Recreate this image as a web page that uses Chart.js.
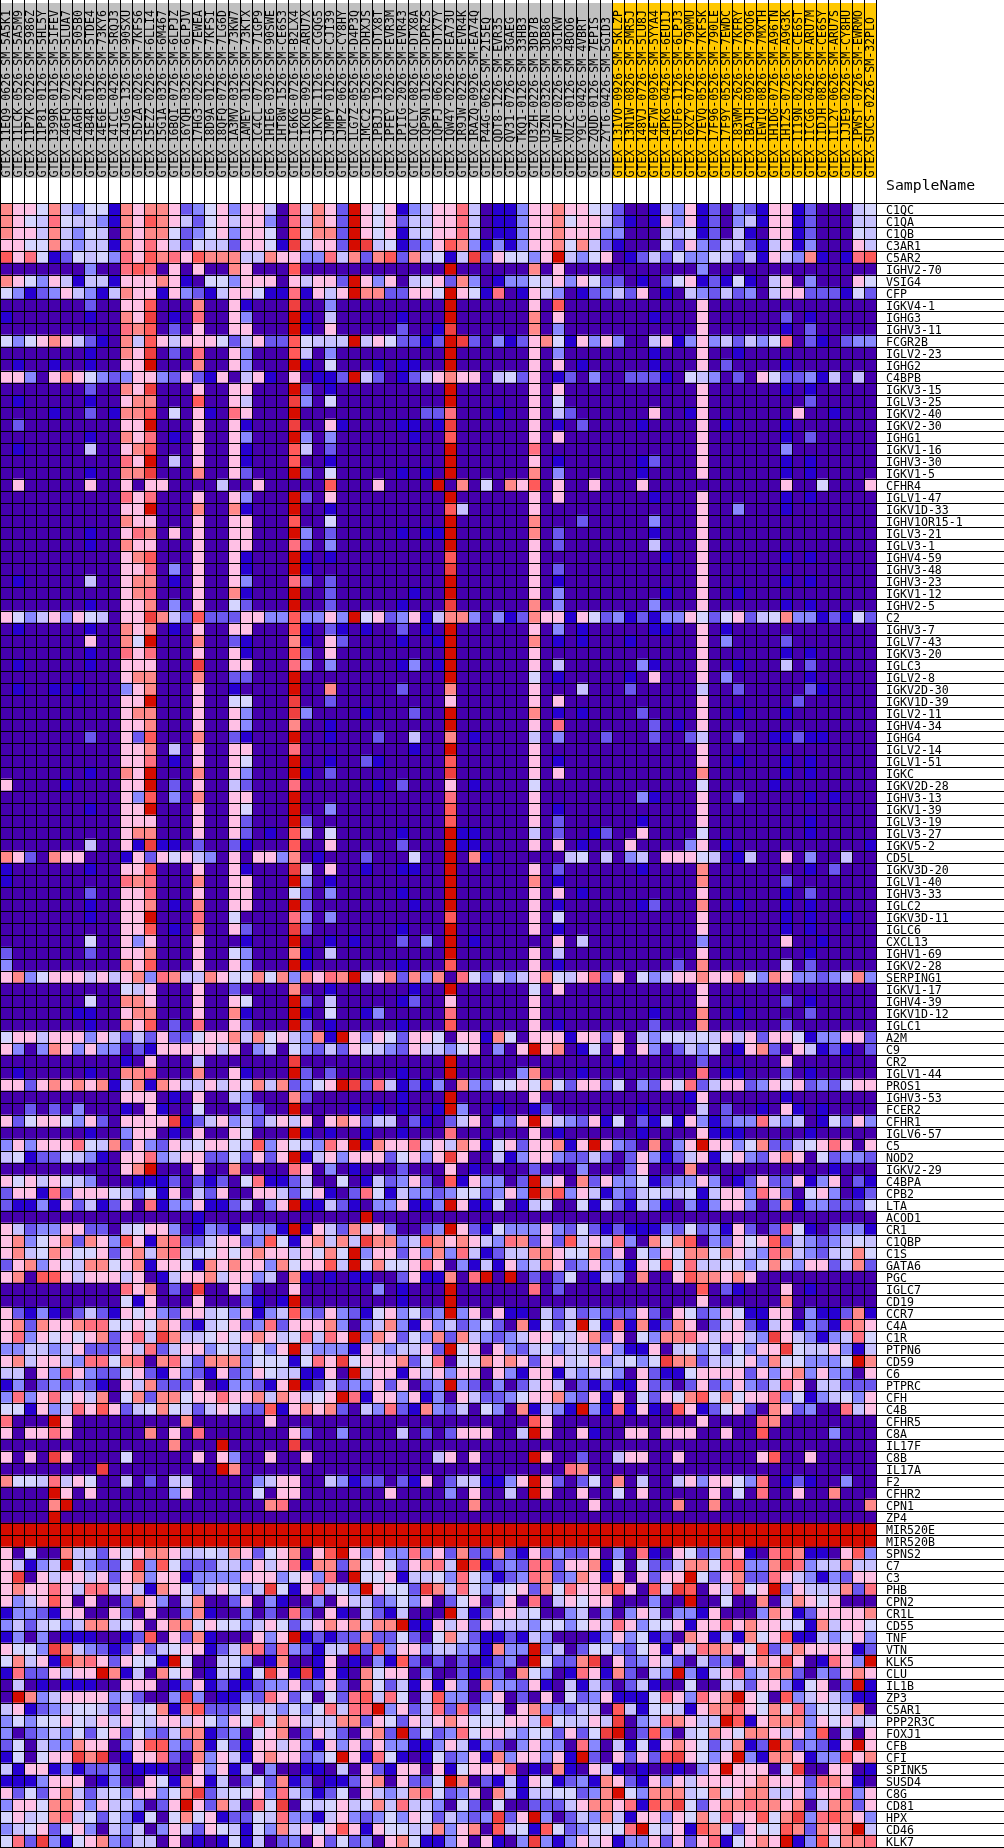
<!DOCTYPE html>
<html><head><meta charset="utf-8">
<style>html,body{margin:0;padding:0;background:#fff}canvas{display:block}</style>
<script src="https://cdn.jsdelivr.net/npm/chart.js@4"></script>
</head><body><canvas id="c" width="1004" height="1848"></canvas>
<script>
const sampleNames=["GTEX-11EQ9-0626-SM-5A5K1","GTEX-11LCK-0526-SM-5A5M9","GTEX-11P7K-0226-SM-5986Z","GTEX-11P81-0126-SM-5HL5Y","GTEX-1399R-0126-SM-5IFEV","GTEX-146FQ-0726-SM-5LUA7","GTEX-14A6H-2426-SM-505B0","GTEX-14B4R-0126-SM-5TDE4","GTEX-14E6E-0326-SM-73KY6","GTEX-14ICL-0426-SM-5RQJ3","GTEX-14JG6-1326-SM-90SXU","GTEX-15DZA-0226-SM-7KFS6","GTEX-15EZZ-0226-SM-6LLI4","GTEX-15G1A-0326-SM-6M467","GTEX-16BQI-0726-SM-6LPJZ","GTEX-16YQH-0326-SM-6LPJV","GTEX-17HG3-0226-SM-7EWEA","GTEX-18D9A-0126-SM-7KFSI","GTEX-18QFQ-0726-SM-7LG6D","GTEX-1A3MV-0326-SM-73KW7","GTEX-1AMEY-0126-SM-73KTX","GTEX-1C4CL-0726-SM-7IGP9","GTEX-1H1E6-0326-SM-90SWE","GTEX-1HT8W-1526-SM-CE6S3","GTEX-1I6K6-0726-SM-B2LX4","GTEX-1IKOE-0926-SM-ARU7X","GTEX-1JKYN-1126-SM-CGQG5","GTEX-1JMPY-0126-SM-CJI39","GTEX-1JMPZ-0626-SM-CY8HY","GTEX-1LG7Z-0526-SM-D4P3Q","GTEX-1MCC2-0526-SM-DHXJS","GTEX-1PBJJ-1926-SM-DTX8T","GTEX-1PFEY-0226-SM-EVR3M","GTEX-1PIIG-2026-SM-EVR43","GTEX-1QCLY-0826-SM-DTX8A","GTEX-1QP9N-0126-SM-DPRZS","GTEX-1QPFJ-0626-SM-DTX7Y","GTEX-1QW4Y-0226-SM-EA73U","GTEX-1R9JW-0226-SM-EVR4K","GTEX-1RAZQ-0926-SM-EA74Q","GTEX-P44G-0626-SM-2I5EQ","GTEX-QDT8-1226-SM-EVR35","GTEX-QV31-0726-SM-3GAEG","GTEX-TKQ1-0126-SM-33HB3","GTEX-U3ZH-0226-SM-3DB7B","GTEX-U3ZN-0326-SM-3DB86","GTEX-WFJO-0226-SM-3GIKW","GTEX-XUZC-0126-SM-4BOO6","GTEX-Y9LG-0426-SM-4VBRT","GTEX-ZQUD-0126-SM-7EPIS","GTEX-ZYT6-0426-SM-5GID3","GTEX-13IVO-0926-SM-5KLZP","GTEX-13N1W-0826-SM-5MR5J","GTEX-148VJ-0726-SM-5LU8J","GTEX-14E7W-0926-SM-5YYA4","GTEX-14PK6-0426-SM-6EU1J","GTEX-15UF6-1126-SM-6LPJ3","GTEX-16XZY-0726-SM-790MU","GTEX-17EVQ-0526-SM-7KFSK","GTEX-17F96-0526-SM-790LE","GTEX-17F9Y-0526-SM-7EWDC","GTEX-183WM-2626-SM-7KFRY","GTEX-1BAJH-0926-SM-79OO6","GTEX-1EWIQ-0826-SM-7MXTH","GTEX-1H1DG-0726-SM-A96TN","GTEX-1H1ZS-0726-SM-A9G3K","GTEX-1I19N-0226-SM-CE6ST","GTEX-1ICG6-0426-SM-ARU7M","GTEX-1IDJH-0826-SM-CE6SY","GTEX-1IL2Y-0626-SM-ARU7S","GTEX-1JJE9-0226-SM-CY8HU","GTEX-1PWST-0726-SM-EWRMO","GTEX-SUCS-0226-SM-32PLO"];
const grayCount=51;
const geneNames=["C1QC","C1QA","C1QB","C3AR1","C5AR2","IGHV2-70","VSIG4","CFP","IGKV4-1","IGHG3","IGHV3-11","FCGR2B","IGLV2-23","IGHG2","C4BPB","IGKV3-15","IGLV3-25","IGKV2-40","IGKV2-30","IGHG1","IGKV1-16","IGHV3-30","IGKV1-5","CFHR4","IGLV1-47","IGKV1D-33","IGHV1OR15-1","IGLV3-21","IGLV3-1","IGHV4-59","IGHV3-48","IGHV3-23","IGKV1-12","IGHV2-5","C2","IGHV3-7","IGLV7-43","IGKV3-20","IGLC3","IGLV2-8","IGKV2D-30","IGKV1D-39","IGLV2-11","IGHV4-34","IGHG4","IGLV2-14","IGLV1-51","IGKC","IGKV2D-28","IGHV3-13","IGKV1-39","IGLV3-19","IGLV3-27","IGKV5-2","CD5L","IGKV3D-20","IGLV1-40","IGHV3-33","IGLC2","IGKV3D-11","IGLC6","CXCL13","IGHV1-69","IGKV2-28","SERPING1","IGKV1-17","IGHV4-39","IGKV1D-12","IGLC1","A2M","C9","CR2","IGLV1-44","PROS1","IGHV3-53","FCER2","CFHR1","IGLV6-57","C5","NOD2","IGKV2-29","C4BPA","CPB2","LTA","ACOD1","CR1","C1QBP","C1S","GATA6","PGC","IGLC7","CD19","CCR7","C4A","C1R","PTPN6","CD59","C6","PTPRC","CFH","C4B","CFHR5","C8A","IL17F","C8B","IL17A","F2","CFHR2","CPN1","ZP4","MIR520E","MIR520B","SPNS2","C7","C3","PHB","CPN2","CR1L","CD55","TNF","VTN","KLK5","CLU","IL1B","ZP3","C5AR1","PPP2R3C","FOXJ1","CFB","CFI","SPINK5","SUSD4","C8G","CD81","HPX","CD46","KLK7"];
const levelColors=["#4500AD","#2700D1","#6B58EF","#8888FF","#C7C1FF","#D5D5FF","#FFC0E5","#FF8989","#FF7080","#FF5A5A","#EF4040","#D60C00"];
const cellLevels=[
"7665743551 7677623563 664085762b 656134 6684011366 7665420014 3612032166 1200045",
"7654854431 7697642564 663084762b 656244 6684011366 7566421016 3612034166 1200044",
"7664743540 7677523563 665095772b 656145 6684011366 7666330004 4512041066 1200054",
"6655743441 7686425442 6651a4662b a45123 6973131366 7574210005 2632442146 1300064",
"9685125453 8697869777 4476633847 279274 514a265536 b435601242 5335424164 3710189",
"0000000300 8980606007 6000900000 000000 0b00000070 6000000000 0030000000 0000000",
"7653641441 6667610553 666064662b 636045 6273013354 6365220102 5612151046 0300065",
"5312364314 7661632146 651181646b 772266 5b65180164 3012342601 0432423046 6222152",
"0000000200 6690007006 1000a00300 000000 0b00000060 9000000000 0060000000 0000000",
"1000000100 76a0108006 3000b10400 000100 0b00000070 6000000010 0060000002 0100000",
"0000000000 8790206006 6000b10600 000200 1a00000070 3000000000 0060000001 0200000",
"5356764210 7496466652 462295444b 465221 2ba2031267 5163630046 1363424358 0210233",
"0000000100 76a0208006 3000940300 000000 0b00000060 3000000010 0060010000 0000000",
"0100100100 66b0007006 3000b10500 010110 0b00000060 6010000010 0060200001 0000000",
"6630676532 3663262160 461060112b 420124 6766045260 1203002221 0543020652 2314040",
"0000000200 76a0006006 6000b20100 000000 0b00000060 6000000000 0060000001 0100000",
"0100000100 6770009006 4000a30500 000000 0b00000060 5000000000 0060000000 0200000",
"0000100201 7790506108 6000b00000 000002 2800010060 4200000060 0160000000 6001000",
"0200000000 66b0006006 1000a00610 000110 1a00000060 1020000100 0060100001 0000000",
"0000000100 7680106006 3000b30300 000010 0900000060 6000000000 0060000001 0200000",
"0100000400 6790006006 1000940200 000000 0b00000080 0000000000 0060000003 0000000",
"0000000000 86b0406006 1000900100 000000 0b00000060 1000000120 0060000001 0100000",
"0000000100 77a0007006 2000b20500 000101 0b00000070 3000000100 0060000001 0100000",
"0600000600 6066000040 0600000900 060000 b070507690 6006000600 0000000006 0050006",
"0000000000 8680006006 3000b20600 000000 0b00000060 6000000010 0060000001 0100000",
"0000000000 66b0007007 1000b00100 000000 0940000060 0000000000 0060030001 0000000",
"0000000000 7660006006 6000900500 000000 0b00000070 0020000030 0060000000 0000000",
"0000000100 6870606006 6000b30200 000101 1b00000070 2000000010 0060000000 0000000",
"0000000100 7660006006 6000820300 000000 0b00000060 2000000040 0060000000 0000000",
"0000000000 6790006006 1000b10100 000000 0900000060 0000000001 0060000001 0100000",
"0000000000 6680306006 1000b10000 000000 0a00000060 2000000000 0060000000 0000000",
"0100000400 6770106006 3000820200 000000 0b00000060 1000000000 0060000001 0100000",
"0000000000 6780006007 1000b00200 000010 0b00000060 3000000001 0060010000 0000000",
"0000000100 6670306005 2000b00200 000100 0a00000070 3000000030 0060000001 0100000",
"6534636540 66a7429222 663393363b 562361 4773031276 6165231213 3652562457 3312152",
"0100000100 7670106006 6000910210 100201 0b00000060 3010000011 0060100000 0000000",
"0000000600 75b0007002 1000710620 000100 1b00000070 1010001000 0060300002 0000000",
"0000000100 8680006006 1000920600 000000 0b00000060 0000000000 0060000001 0100000",
"0100000100 666000a006 6000830300 000130 1b00000060 4000000310 0060010004 0200000",
"0000000000 6770007002 2000b00000 000000 0b00000050 1000001060 0060300000 0100000",
"0100101000 3670006001 0000b00700 000200 0700000060 0040002000 0040020000 0210000",
"0000000000 66b0006005 5000a00200 000000 0600000060 6000000000 0060000000 2000000",
"0000000000 6770006006 3000a30000 100020 0b00000070 1010000200 0060010001 0000000",
"0000000000 6670006006 3000700100 000000 0b00000060 8000000020 1060000000 0000000",
"0000000200 6290007002 1000b00100 020040 0701000040 3000200020 0240020011 2110000",
"0000000000 6670406006 6000800000 000010 0b00000060 0000000000 0060000000 0000000",
"0000000000 6680106006 5000b00100 210000 0900000060 1000000000 0060010001 0100000",
"0000000100 76b0007006 3000b10200 000000 0a00000060 6000000000 0070000001 0100000",
"6000010000 66b0206004 2000800000 010200 0601000050 0000000000 0050000010 0000000",
"0000000000 6390307006 6000b00000 000000 0800000060 0000000310 0060020000 0101000",
"0000000100 66b0006006 5000b00300 000000 0900000060 1000000000 0060000000 0000000",
"0000000000 6660006006 2000b20000 000000 0900000060 2000000100 0060000000 0100000",
"0000000000 6770006006 2010940500 000100 0b11000040 2001200600 0050000000 0100000",
"0000000400 61a1102002 1000900600 000200 0b11000060 6010006000 0360100000 0000001",
"7620766000 1626564306 0663701000 200050 0b07100000 0450403406 6654014006 0300400",
"1000000100 6690006006 1000a40600 100110 0b00000060 2000000100 0070000000 0102000",
"1000000000 8780007006 6000b30100 000000 0b00000070 1000000000 0070000002 0000000",
"0000000200 6680006006 6000520300 000100 0b00000060 6010000000 0060000001 0200000",
"0000000100 6670107006 6000b20000 000010 0b00000060 1000000120 0070010001 0100000",
"0000000100 66b0008005 0000830300 000000 0900000060 5000000000 0060000001 0100100",
"0000000000 6690107006 2000a20000 000100 0b00000060 1000000000 0060000001 0100000",
"0000000500 6360006000 1000b00101 000203 0b01000000 6040000000 0030000006 0010000",
"2000000200 6670006005 3000710400 000000 0b00000060 4000000000 0060000000 0100000",
"3000000000 7690006006 3000b10000 000100 0900000060 1000000000 2070000004 0200000",
"6735666464 6738744765 575737687b 467273 7085243467 5468260534 6676675376 3323473",
"0000000000 5460006002 0000700100 000010 0b00000050 6000000000 0060000000 0000000",
"0000000500 7760006006 5000b20400 000120 0600000060 0000000000 0060000002 0100000",
"0000001100 6770006007 1000b10500 130000 0800000060 0000000010 0070010000 0200000",
"0000000100 7690208006 2000b20100 000100 0900000060 1000000020 0070000002 0000000",
"5664666364 2426225667 47564371b6 365266 5066175066 6166260435 5454646266 5133662",
"6303763633 0216666646 0340532426 543264 43560306b6 7015060630 2435016720 6412102",
"0000000000 1060004000 0000a00000 000000 0b00000000 0000010000 0020000006 0000000",
"0100000100 7780007006 1000b20200 000100 0b00000370 0010000000 0080110002 0100000",
"6626767671 4717644646 57472356ba 284121 3073255657 5266250326 5824662365 6232566",
"0000000000 6660106004 3000720000 000100 0b00000060 0000000000 0160000001 0000000",
"0020203000 1061005000 3200b00001 010100 1b30010012 0000000100 0040200106 1010000",
"6256653620 6666a12463 4246460676 244021 02460326b6 4326150215 1631233843 4015263",
"0000000100 3660106006 5000b10100 100100 0800000060 1000000100 0061110000 0100000",
"3636668547 2632645665 493654386b 176684 6476156266 716b632070 36b6635722 4568606",
"4512254310 6683466225 2626b14636 662563 6a60041366 3224202631 2461563267 6052332",
"0000000000 67b0006007 0000860301 000200 0601000020 0030002600 0700000000 0001000",
"6564654300 0111202120 5811240050 142362 09163302b4 6072633512 3363012622 6136021",
"2661826665 4351604260 0664256102 851433 23552363b7 9364132454 4514663862 0563012",
"2113162412 6081336112 4036b11421 033611 3b61150145 0051521431 0313663027 1332225",
"0000000000 0000001000 0000000000 b00000 0000000000 0000000000 0000000000 0000000",
"6423366220 4566301321 4331b16427 463002 3b62153336 3252121113 2523162028 5102331",
"6735672763 9617822466 2395167474 a77349 7676438726 2946483075 7903265692 4323454",
"6745765562 6747845565 676646575b 366263 7384124477 6557260536 5775764387 4324575",
"2673654775 6716651767 663756694b 575568 6031416347 6236331659 5844553575 3662472",
"6709964666 4601466746 6340710101 100261 1708b0b020 2501430700 6977676000 0000000",
"0000000000 867020a006 3000600000 030100 0b00000080 2000000000 0090210006 0100000",
"0000000000 5160006000 2101b00000 000100 0b00000000 0000000000 0060000007 0000000",
"6213102421 6563266453 6134932632 156352 3b36061104 2423222620 6523651166 0311271",
"6727667885 5657621456 2382666730 347316 3423520715 24b5181712 7602462146 1321876",
"6836565672 684a744565 676458486b 376253 7274323466 5467260537 78646643a6 4313485",
"3344346222 6482466354 3536b43331 643446 2b56063245 3443631160 453525366a 5446314",
"6746643885 7807842777 35551586a5 666725 8055767626 645634535a 7724456375 53335b7",
"4406386322 5621632162 365441160b 466164 6366063166 1434530621 1566662636 7363306",
"1302323210 6472226013 3216b12423 362602 3b32030246 4021211622 0262363248 6044222",
"3836856470 5727756686 67476456b8 166361 3064223566 7326160526 5795756683 5134536",
"5516348696 2457542465 2291676720 438217 3240530714 31b3181610 9612562076 2300846",
"8000b60000 0000070000 0060000000 000000 0000000096 0000000000 0060000870 0000000",
"6066860000 0070608000 0000620030 000402 02666004b6 0061006606 6600600900 0003000",
"0000000000 00007000b0 0000a00000 000000 0000000000 0000000000 0000000000 0000000",
"6060a60000 5000006063 0060060000 000000 46060000b6 0020046600 6000000690 0600000",
"00000000a0 00000000b7 0000000000 000000 0000000000 0870000000 0000000000 0000000",
"7554846500 4020440000 0346600431 220216 02441136b6 2025070400 4636653801 2100300",
"0000b60600 0000360000 0506600000 006000 03060040b6 0060050600 0006050800 6007000",
"00007b0000 0000000000 0078000000 000000 0007000000 0006000000 7007000000 0000007",
"0000b00000 0000000000 0000000000 000000 0000000000 0000000000 0000000000 0000000",
"bbbbbbbbbb bbbbbbbbbb bbbbbbbbbb bbbbbb bbbbbbbbbb bbbbbbbbbb bbbbbbbbbb bbbbbbb",
"bbbbbbbbbb bbbbbbbbbb bbbbbbbbbb bbbbbb bbbbbbbbbb bbbbbbbbbb bbbbbbbbbb bbbbbbb",
"6050074426 5677644547 62567069b6 363383 6272272162 3226030810 6523761089 7110693",
"64134b4322 5a39522244 3646817727 565267 84b9123288 2667150522 477589337a 8344744",
"6a06466462 6736613333 666356380b 556144 5385312387 2376160626 6b52672286 4313266",
"6766864884 6417653465 34a5168453 b6552a 7485345627 5866796094 a9064856b3 6444728",
"6346960600 2763047002 6031003064 423536 0256036080 4656600030 0b00500704 7656000",
"1332166006 2060037100 3020820610 421400 0b41266450 0340303640 3316000376 1266667",
"3424534774 5606775655 3465246767 477b11 6462644435 5356486355 6166867665 5174665",
"1303011100 1290627100 0636b12122 722520 5742112143 0001363512 0761417569 1143563",
"6553a74321 2624566124 782832144a 293663 44331733b3 4025532561 6487765924 7666612",
"57461a7862 6551b50045 3017001601 031920 20201230b5 227a062364 204230676a 601863b",
"18226466b7 1407560144 15a61a1610 756603 0021220753 0186172043 b314683477 2032676",
"0401011100 6660126121 1233623620 752416 1630733261 0414202410 0500442663 15602b1",
"0b73466663 42003a3011 3286250528 948504 9330360206 0523611158 63867b6509 3464311",
"4612345542 6457179222 5443535848 8b3624 8282540673 3244094155 4167786575 8355470",
"3535565464 6546646536 5857644477 265264 6765556649 54464a0348 7644b91677 7365645",
"3023435256 2532477123 0567026420 672b25 2385664355 2625ab0293 0457657764 6390406",
"2504337660 3699327152 1664631636 263311 3641320363 3083041516 76524712b7 23216b6",
"150566a7a0 1668207364 16766235b6 185101 5236173663 61b2062629 a6536b3177 6133967",
"4166131223 0111006361 4030011040 621660 6156668010 7106410100 1036b66605 a006601",
"1113666013 0065176140 2527120112 670622 5b70214165 1231762163 6466666766 6287610",
"6252674245 366357a245 5638431250 643478 5236074144 55237b5377 7457567744 6366836",
"3665776364 43026b6274 085a054564 574844 3052050022 2467768197 a526778776 7047726",
"5645784525 3150575612 2548331463 235365 24323a26b3 0243741663 6575866957 a389763",
"3456256304 3403642654 1537465696 165544 7367094519 5235558b54 6197526559 72767b4",
"582a315673 2440601015 1402306252 306751 13606103a3 1364613362 626815676b 1395778"
];
const grid=cellLevels.map(s=>s.replace(/\s/g,'').padEnd(sampleNames.length,'0').slice(0,sampleNames.length));
const datasets=sampleNames.map((name,c)=>({
  label:name,
  data:geneNames.map(()=>1),
  backgroundColor:grid.map(r=>levelColors[parseInt(r[c],12)]),
  borderWidth:0,barPercentage:1,categoryPercentage:1,
  xAxisID:'x',yAxisID:'y'
}));
const FONT="'DejaVu Sans Mono',monospace";
const header={id:'header',beforeDraw(ch){
  const g=ch.ctx,s=ch.scales.xTop;
  g.save();
  g.fillStyle='#fff';g.fillRect(0,0,ch.width,ch.height);
  sampleNames.forEach((n,i)=>{
    const px=s.getPixelForValue(i);
    g.fillStyle=i<grayCount?'#C0C0C0':'#FFC800';
    g.fillRect(px-6,3,12,175);
  });
  g.restore();
},afterDraw(ch){
  const g=ch.ctx;g.save();
  g.fillStyle='#000';g.font="14.8px "+FONT;g.textBaseline='alphabetic';
  g.fillText('SampleName',886,190);
  g.restore();
}};
new Chart(document.getElementById('c'),{
  type:'bar',
  data:{labels:geneNames,datasets},
  plugins:[header],
  options:{
    indexAxis:'y',responsive:false,animation:false,devicePixelRatio:1,
    layout:{padding:{left:0,right:0,top:0,bottom:1}},
    plugins:{legend:{display:false},tooltip:{enabled:false},title:{display:false}},
    scales:{
      x:{type:'linear',display:false,stacked:true,min:0,max:sampleNames.length},
      xTop:{type:'category',axis:'x',position:'top',labels:sampleNames,offset:true,
        afterFit(s){s.height=203;},
        grid:{offset:true,color:'#000',lineWidth:1,tickColor:'#000',tickLength:203,z:1},
        border:{display:false},
        ticks:{autoSkip:false,minRotation:90,maxRotation:90,padding:-177.5,labelOffset:15,color:'#000',font:{family:FONT,size:11.6}}},
      y:{type:'category',position:'right',stacked:true,offset:true,
        afterFit(s){s.width=128;},
        grid:{offset:true,color:'#000',lineWidth:1,tickColor:'#000',tickLength:128,z:1},
        border:{display:false},
        ticks:{autoSkip:false,padding:-118,labelOffset:2,color:'#000',font:{family:FONT,size:11.6}}}
    }
  }
});
</script></body></html>
